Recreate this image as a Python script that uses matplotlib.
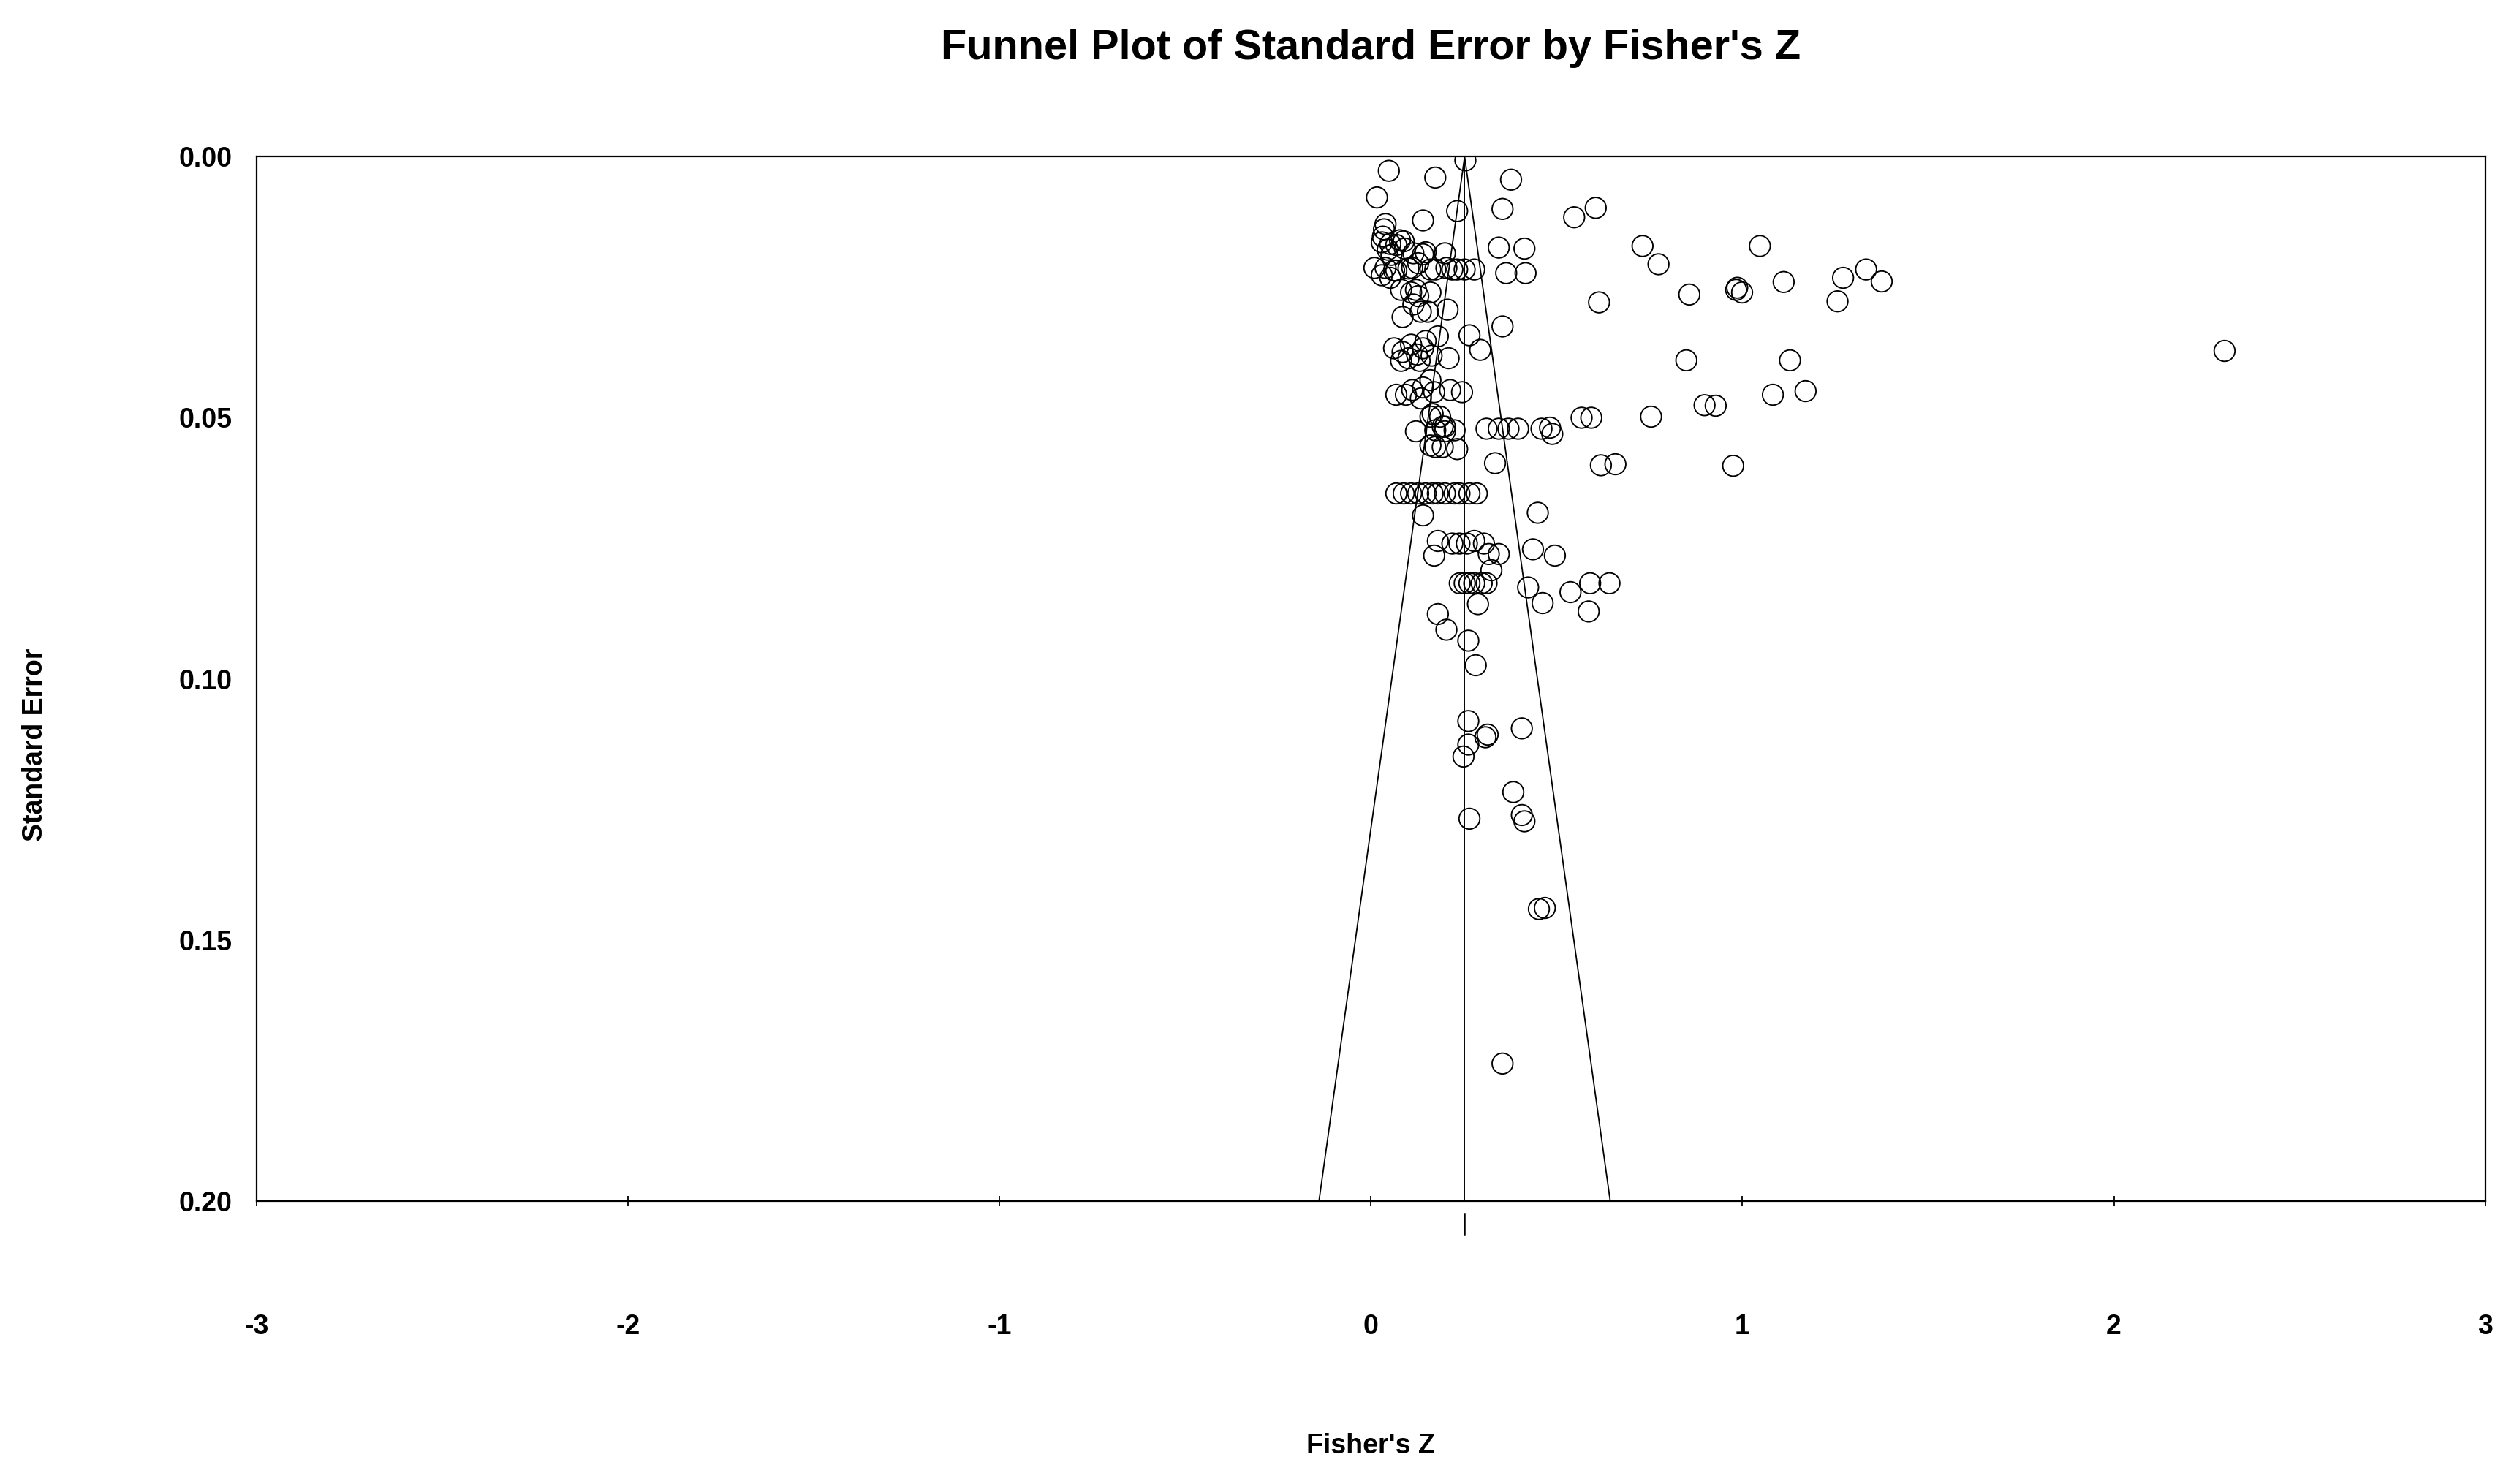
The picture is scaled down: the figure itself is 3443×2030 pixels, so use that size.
import matplotlib
matplotlib.use("Agg")
from matplotlib import pyplot as plt

plt.rcParams['font.family'] = ['Liberation Sans', 'DejaVu Sans']
plt.rcParams['font.weight'] = 'bold'

# study effects (Fisher's Z) and their standard errors
fisher_z = [
    0.254, 0.048, 0.173, 0.377, 0.016, 0.232, 0.354, 0.140, 0.547, 0.605,
    0.039, 0.035, 0.032, 0.029, 0.052, 0.078, 0.091, 0.045, 0.114, 0.140,
    0.199, 0.344, 0.413, 0.009, 0.039, 0.068, 0.111, 0.173, 0.203, 0.232,
    0.252, 0.278, 0.364, 0.416, 0.029, 0.052, 0.081, 0.108, 0.127, 0.160,
    0.114, 0.085, 0.134, 0.153, 0.206, 0.614, 0.354, 0.265, 0.294, 0.062,
    0.085, 0.108, 0.124, 0.140, 0.101, 0.081, 0.131, 0.163, 0.180, 0.209,
    0.147, 0.068, 0.094, 0.111, 0.140, 0.160, 0.170, 0.213, 0.245, 0.134,
    0.166, 0.193,
    0.068, 0.088, 0.055, 0.147, 0.062, 0.101, 0.127, 0.160, 0.219, 0.121,
    0.160, 0.186, 0.199,
    0.121, 0.173, 0.199, 0.225, 0.311, 0.344, 0.370, 0.396, 0.459, 0.482,
    0.488, 0.567, 0.593, 0.160, 0.173, 0.193, 0.232, 0.334, 0.619, 0.658,
    0.068, 0.088, 0.108, 0.127, 0.147, 0.166, 0.180, 0.199, 0.225, 0.238,
    0.265, 0.285,
    0.140, 0.449, 0.180, 0.170, 0.219, 0.238, 0.258, 0.278, 0.304, 0.317,
    0.344, 0.324, 0.436, 0.495,
    0.239, 0.252, 0.265, 0.278, 0.298, 0.311,
    0.288, 0.423, 0.462, 0.537, 0.590, 0.642, 0.586, 0.180, 0.203, 0.262,
    0.282,
    0.262, 0.314, 0.308, 0.406, 0.262, 0.249, 0.383, 0.406, 0.413, 0.265,
    0.452, 0.468, 0.354,
    0.731, 0.774, 1.047, 0.857, 0.983, 0.986, 0.999, 1.111, 1.271, 1.333,
    1.375, 1.256, 0.849, 1.128, 1.082, 1.170, 0.898, 0.928, 0.754, 0.975,
    2.298,
]
std_err = [
    0.0007, 0.0027, 0.0040, 0.0044, 0.0078, 0.0104, 0.0100, 0.0122, 0.0116, 0.0098,
    0.0129, 0.0139, 0.0153, 0.0164, 0.0167, 0.0160, 0.0176, 0.0178, 0.0185, 0.0187,
    0.0185, 0.0174, 0.0176, 0.0213, 0.0213, 0.0218, 0.0213, 0.0216, 0.0213, 0.0216,
    0.0216, 0.0216, 0.0223, 0.0223, 0.0227, 0.0232, 0.0255, 0.0260, 0.0267, 0.0260,
    0.0283, 0.0307, 0.0297, 0.0297, 0.0293, 0.0279, 0.0325, 0.0342, 0.0370, 0.0367,
    0.0374, 0.0360, 0.0379, 0.0367, 0.0386, 0.0391, 0.0391, 0.0381, 0.0344, 0.0386,
    0.0353, 0.0456, 0.0456, 0.0447, 0.0442, 0.0428, 0.0451, 0.0447, 0.0451, 0.0463,
    0.0493, 0.0517,
    0.0169, 0.0162, 0.0188, 0.0183, 0.0218, 0.0214, 0.0204, 0.0216, 0.0216, 0.0255,
    0.0498, 0.0498, 0.0517,
    0.0526, 0.0524, 0.0526, 0.0524, 0.0521, 0.0521, 0.0521, 0.0521, 0.0521, 0.0519,
    0.0531, 0.0500, 0.0500, 0.0553, 0.0556, 0.0556, 0.0560, 0.0587, 0.0591, 0.0589,
    0.0645, 0.0645, 0.0645, 0.0645, 0.0645, 0.0645, 0.0645, 0.0645, 0.0645, 0.0645,
    0.0645, 0.0645,
    0.0687, 0.0682, 0.0736, 0.0764, 0.0741, 0.0741, 0.0741, 0.0736, 0.0741, 0.0761,
    0.0761, 0.0792, 0.0752, 0.0764,
    0.0817, 0.0817, 0.0817, 0.0817, 0.0817, 0.0817,
    0.0857, 0.0825, 0.0855, 0.0834, 0.0817, 0.0817, 0.0871, 0.0876, 0.0906, 0.0927,
    0.0974,
    0.1081, 0.1107, 0.1112, 0.1095, 0.1126, 0.1149, 0.1217, 0.1261, 0.1273, 0.1268,
    0.1441, 0.1439, 0.1737,
    0.0171, 0.0206, 0.0171, 0.0264, 0.0255, 0.0251, 0.0260, 0.0240, 0.0232, 0.0216,
    0.0239, 0.0277, 0.0390, 0.0390, 0.0456, 0.0449, 0.0476, 0.0477, 0.0498, 0.0592,
    0.0372,
]

mean_z = 0.252
se_max = 0.20

x_ticks = [-3, -2, -1, 0, 1, 2, 3]
x_tick_labels = ['-3', '-2', '-1', '0', '1', '2', '3']
y_ticks = [0.00, 0.05, 0.10, 0.15, 0.20]
y_tick_labels = ['0.00', '0.05', '0.10', '0.15', '0.20']


def main():
    fig = plt.figure(figsize=(34.43, 20.30), dpi=100)
    ax = fig.add_axes([0.1020, 0.1908, 0.8854, 0.7036])

    # funnel (95% limits) and the mean line
    ax.plot([mean_z - 1.96 * se_max, mean_z, mean_z + 1.96 * se_max], [se_max, 0, se_max],
            color='black', lw=1.3, zorder=2)
    ax.plot([mean_z, mean_z], [0, se_max], color='black', lw=1.4, zorder=2)
    # little mark of the mean under the axis
    ax.plot([mean_z, mean_z], [0.2024, 0.2065], color='black', lw=1.8, clip_on=False)

    ax.scatter(fisher_z, std_err, s=420, facecolors='none', edgecolors='black',
               linewidths=1.35, zorder=3)

    ax.set_xlim(-3, 3)
    ax.set_ylim(se_max, 0)

    ax.set_xticks(x_ticks)
    ax.set_xticklabels(x_tick_labels)
    ax.set_yticks(y_ticks)
    ax.set_yticklabels(y_tick_labels)
    ax.tick_params(axis='x', direction='inout', length=10, width=1.3, pad=106, labelsize=27)
    ax.tick_params(axis='y', length=0, pad=24.5, labelsize=27)

    for sp in ax.spines.values():
        sp.set_linewidth(1.6)

    ax.set_xlabel("Fisher's Z", fontsize=27, fontweight='bold')
    ax.xaxis.label.set_va('center')
    ax.xaxis.set_label_coords(0.5, -0.2347)
    ax.set_ylabel('Standard Error', fontsize=27, fontweight='bold')
    ax.yaxis.label.set_va('center')
    ax.yaxis.set_label_coords(-0.0994, 0.4366)

    fig.text(0.5446, 1 - 66 / 2030, "Funnel Plot of Standard Error by Fisher's Z",
             ha='center', va='center', fontsize=41.5, fontweight='bold')

    fig.savefig('out.png', dpi=100, facecolor='white')


if __name__ == '__main__':
    main()
